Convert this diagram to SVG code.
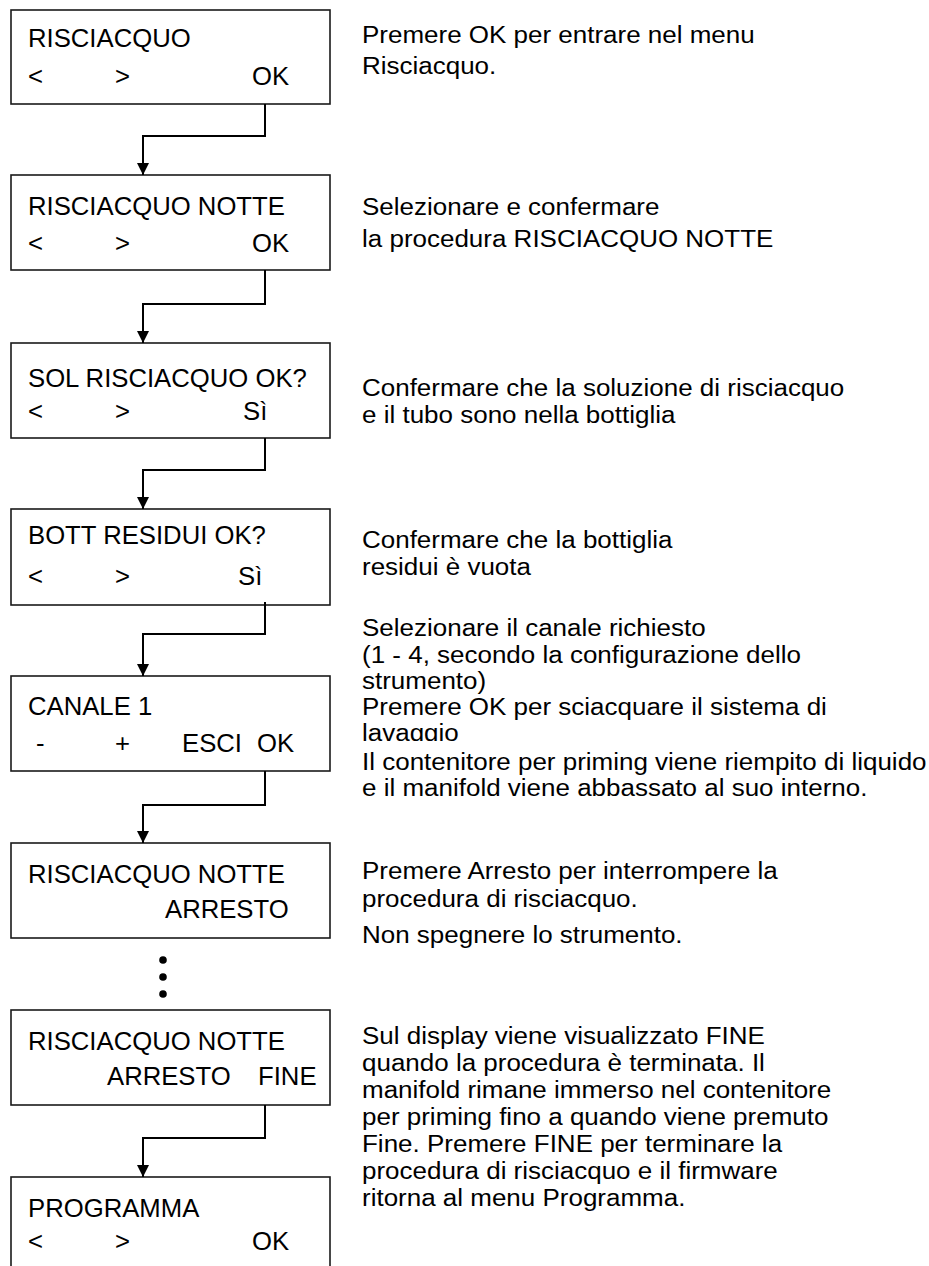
<svg xmlns="http://www.w3.org/2000/svg" width="929" height="1266" viewBox="0 0 929 1266">
  <style>
    .box { fill: #ffffff; stroke: #1a1a1a; stroke-width: 1.6; }
    .lbl { font-family: "Liberation Sans", Arial, sans-serif; font-size: 25.7px; fill: #000000; }
    .note { font-family: "Liberation Sans", Arial, sans-serif; font-size: 24px; fill: #000000; }
    .wire { fill: none; stroke: #000000; stroke-width: 2; }
  </style>
  <defs>
    <marker id="arrow" markerWidth="12" markerHeight="12" refX="12" refY="6" orient="auto" markerUnits="userSpaceOnUse">
      <path d="M0,0 L12,6 L0,12 Z" fill="#000000"/>
    </marker>
    <clipPath id="cut-note5">
      <rect x="300" y="600" width="629" height="141"/>
    </clipPath>
  </defs>
  <rect width="929" height="1266" fill="#ffffff"/>

  <!-- display screens -->
  <g id="screen-risciacquo">
    <rect class="box" x="11" y="10" width="319" height="94"/>
    <text class="lbl" x="28" y="47">RISCIACQUO</text>
    <text class="lbl" x="28" y="85">&lt;</text>
    <text class="lbl" x="115" y="85">&gt;</text>
    <text class="lbl" x="252" y="85">OK</text>
  </g>
  <g id="screen-notte">
    <rect class="box" x="11" y="175" width="319" height="95"/>
    <text class="lbl" x="28" y="215">RISCIACQUO NOTTE</text>
    <text class="lbl" x="28" y="252">&lt;</text>
    <text class="lbl" x="115" y="252">&gt;</text>
    <text class="lbl" x="252" y="252">OK</text>
  </g>
  <g id="screen-sol">
    <rect class="box" x="11" y="343" width="319" height="95"/>
    <text class="lbl" x="28" y="387">SOL RISCIACQUO OK?</text>
    <text class="lbl" x="28" y="420">&lt;</text>
    <text class="lbl" x="115" y="420">&gt;</text>
    <text class="lbl" x="243" y="420">Sì</text>
  </g>
  <g id="screen-bott">
    <rect class="box" x="11" y="509" width="319" height="96"/>
    <text class="lbl" x="28" y="544">BOTT RESIDUI OK?</text>
    <text class="lbl" x="28" y="585">&lt;</text>
    <text class="lbl" x="115" y="585">&gt;</text>
    <text class="lbl" x="238" y="585">Sì</text>
  </g>
  <g id="screen-canale">
    <rect class="box" x="11" y="676" width="319" height="95"/>
    <text class="lbl" x="28" y="715">CANALE 1</text>
    <text class="lbl" x="36" y="752">-</text>
    <text class="lbl" x="115" y="752">+</text>
    <text class="lbl" x="182" y="752">ESCI</text>
    <text class="lbl" x="257" y="752">OK</text>
  </g>
  <g id="screen-arresto">
    <rect class="box" x="11" y="843" width="319" height="95"/>
    <text class="lbl" x="28" y="883">RISCIACQUO NOTTE</text>
    <text class="lbl" x="165" y="918">ARRESTO</text>
  </g>
  <g id="ellipsis">
    <circle cx="163" cy="960" r="3.8" fill="#000000"/>
    <circle cx="163" cy="977" r="3.8" fill="#000000"/>
    <circle cx="163" cy="994" r="3.8" fill="#000000"/>
  </g>
  <g id="screen-fine">
    <rect class="box" x="11" y="1010" width="319" height="95"/>
    <text class="lbl" x="28" y="1050">RISCIACQUO NOTTE</text>
    <text class="lbl" x="107" y="1085">ARRESTO</text>
    <text class="lbl" x="258" y="1085">FINE</text>
  </g>
  <g id="screen-programma">
    <rect class="box" x="11" y="1177" width="319" height="95"/>
    <text class="lbl" x="28" y="1217">PROGRAMMA</text>
    <text class="lbl" x="28" y="1250">&lt;</text>
    <text class="lbl" x="115" y="1250">&gt;</text>
    <text class="lbl" x="252" y="1250">OK</text>
  </g>

  <!-- step arrows between screens -->
  <g id="connectors">
    <path class="wire" d="M265,104 V136 H143 V175" marker-end="url(#arrow)"/>
    <path class="wire" d="M265,270 V304 H143 V343" marker-end="url(#arrow)"/>
    <path class="wire" d="M265,438 V470 H143 V509" marker-end="url(#arrow)"/>
    <path class="wire" d="M265,602 V634 H143 V676" marker-end="url(#arrow)"/>
    <path class="wire" d="M265,771 V805 H143 V843" marker-end="url(#arrow)"/>
    <path class="wire" d="M265,1105 V1138 H143 V1177" marker-end="url(#arrow)"/>
  </g>

  <!-- explanations (slightly wide-set text column) -->
  <g id="note-1" transform="translate(362 0) scale(1.083 1)">
    <text class="note" x="0" y="43">Premere OK per entrare nel menu</text>
    <text class="note" x="0" y="74">Risciacquo.</text>
  </g>
  <g id="note-2" transform="translate(362 0) scale(1.083 1)">
    <text class="note" x="0" y="215">Selezionare e confermare</text>
    <text class="note" x="0" y="247">la procedura RISCIACQUO NOTTE</text>
  </g>
  <g id="note-3" transform="translate(362 0) scale(1.083 1)">
    <text class="note" x="0" y="396">Confermare che la soluzione di risciacquo</text>
    <text class="note" x="0" y="423">e il tubo sono nella bottiglia</text>
  </g>
  <g id="note-4" transform="translate(362 0) scale(1.083 1)">
    <text class="note" x="0" y="548">Confermare che la bottiglia</text>
    <text class="note" x="0" y="575">residui è vuota</text>
  </g>
  <g id="note-5" clip-path="url(#cut-note5)">
    <g transform="translate(362 0) scale(1.083 1)">
      <text class="note" x="0" y="636">Selezionare il canale richiesto</text>
      <text class="note" x="0" y="663">(1 - 4, secondo la configurazione dello</text>
      <text class="note" x="0" y="689">strumento)</text>
      <text class="note" x="0" y="715">Premere OK per sciacquare il sistema di</text>
      <text class="note" x="0" y="741">lavaggio</text>
    </g>
  </g>
  <g id="note-6" transform="translate(362 0) scale(1.083 1)">
    <text class="note" x="0" y="770">Il contenitore per priming viene riempito di liquido</text>
    <text class="note" x="0" y="796">e il manifold viene abbassato al suo interno.</text>
  </g>
  <g id="note-7" transform="translate(362 0) scale(1.083 1)">
    <text class="note" x="0" y="879">Premere Arresto per interrompere la</text>
    <text class="note" x="0" y="907">procedura di risciacquo.</text>
    <text class="note" x="0" y="943">Non spegnere lo strumento.</text>
  </g>
  <g id="note-8" transform="translate(362 0) scale(1.083 1)">
    <text class="note" x="0" y="1044">Sul display viene visualizzato FINE</text>
    <text class="note" x="0" y="1071">quando la procedura è terminata. Il</text>
    <text class="note" x="0" y="1098">manifold rimane immerso nel contenitore</text>
    <text class="note" x="0" y="1125">per priming fino a quando viene premuto</text>
    <text class="note" x="0" y="1152">Fine. Premere FINE per terminare la</text>
    <text class="note" x="0" y="1179">procedura di risciacquo e il firmware</text>
    <text class="note" x="0" y="1206">ritorna al menu Programma.</text>
  </g>
</svg>
